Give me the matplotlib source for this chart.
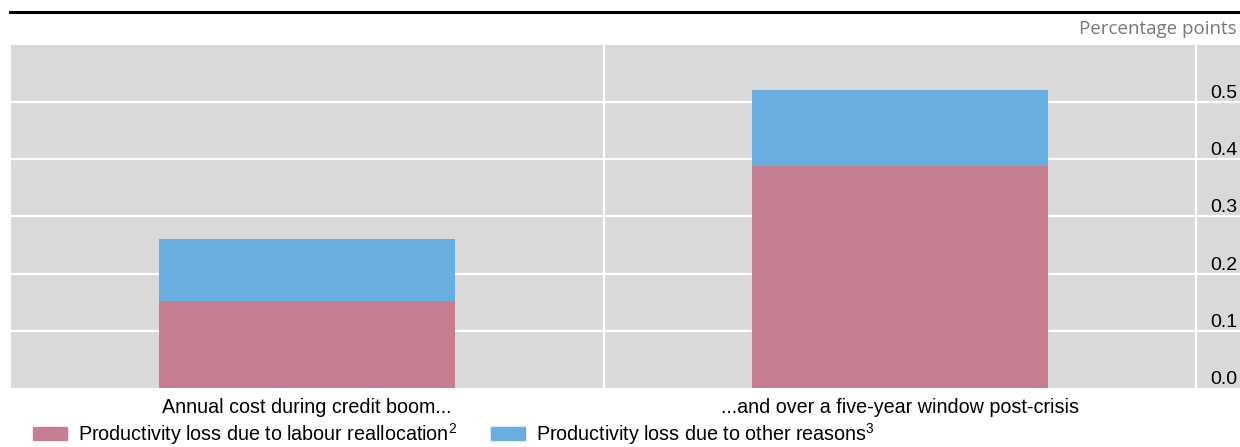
import matplotlib.pyplot as plt
from matplotlib.patches import Patch
from matplotlib.lines import Line2D

plt.rcParams['font.family'] = ['Liberation Sans', 'DejaVu Sans']
plt.rcParams['mathtext.fontset'] = 'custom'
plt.rcParams['mathtext.rm'] = 'Liberation Sans'

categories = ['Annual cost during credit boom...', '...and over a five-year window post-crisis']
labour_realloc = [0.152, 0.389]
other_reasons = [0.108, 0.133]
series_labels = ['Productivity loss due to labour reallocation$^2$',
                 'Productivity loss due to other reasons$^3$']
yticks = [0.0, 0.1, 0.2, 0.3, 0.4, 0.5]

red = '#C37F8F'
blue = '#6AADE0'
bg = '#D9D9D9'

fig = plt.figure(figsize=(12.4, 4.47), dpi=100)
# grey panel runs under the value labels on the right
ax = fig.add_axes([11 / 1240, 59 / 447, 1229 / 1240, 343 / 447])
ax.set_facecolor(bg)

x = range(len(categories))
ax.bar(x, labour_realloc, width=0.5, color=red, zorder=3)
ax.bar(x, other_reasons, width=0.5, bottom=labour_realloc, color=blue, zorder=3)

ax.set_xlim(-0.5, 1.5 + 44 / 592.5)
ax.set_ylim(0, 0.6)
for v in yticks[1:]:
    ax.axhline(v, color='white', lw=1.6, zorder=1)
for v in (0.5, 1.5):
    ax.axvline(v, color='white', lw=1.6, zorder=1)

for s in ax.spines.values():
    s.set_visible(False)

ax.set_xticks(list(x))
ax.set_xticklabels(categories, fontsize=14.2)
ax.tick_params(axis='x', length=0, pad=7.5)

ax.yaxis.tick_right()
ax.set_yticks(yticks)
ax.set_yticklabels([f'{v:.1f}' for v in yticks], fontsize=14)
ax.tick_params(axis='y', length=0, pad=-2)
for lab in ax.get_yticklabels():
    lab.set_horizontalalignment('right')
    lab.set_verticalalignment('bottom')

# header rule and unit label
fig.add_artist(Line2D([10 / 1240, 1], [1 - 12 / 447, 1 - 12 / 447], color='black', lw=2.2))
fig.text(1237 / 1240, 1 - 29 / 447, 'Percentage points', ha='right', va='center',
         fontsize=13.5, color='#777777', family=['Open Sans', 'DejaVu Sans'])

handles = [Patch(color=red), Patch(color=blue)]
fig.legend(handles, series_labels, loc='lower left', bbox_to_anchor=(15 / 1240, -0.039),
           ncol=2, frameon=False, fontsize=14.2, handlelength=1.75, handleheight=0.6,
           columnspacing=1.7, handletextpad=0.55)

fig.savefig('out.png', dpi=100)
